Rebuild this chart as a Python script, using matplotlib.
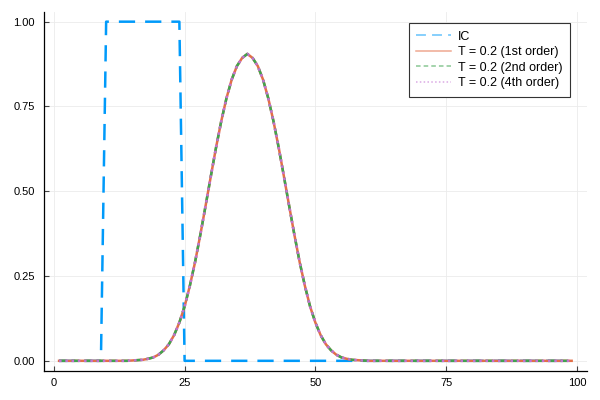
import matplotlib
matplotlib.use("Agg")
import matplotlib.pyplot as plt
from matplotlib.ticker import FuncFormatter

x = list(range(1, 100))

# IC values: 1 for x = 10..24, else 0
ic = [0]*9 + [1]*15 + [0]*75

sol1 = ([0.0]*13 +
        [0.000, 0.001, 0.002, 0.003, 0.006, 0.010, 0.018, 0.031, 0.049, 0.076,
         0.113, 0.160, 0.221, 0.291, 0.371, 0.456, 0.543, 0.628, 0.706, 0.774,
         0.829, 0.869, 0.893, 0.905, 0.893, 0.869, 0.829, 0.774, 0.706, 0.628,
         0.543, 0.456, 0.371, 0.291, 0.221, 0.160, 0.113, 0.076, 0.049, 0.031,
         0.018, 0.010, 0.006, 0.003, 0.002, 0.001, 0.000] +
        [0.0]*39)
sol2 = ([0.0]*13 +
        [0.000, 0.001, 0.002, 0.003, 0.006, 0.010, 0.018, 0.031, 0.049, 0.076,
         0.113, 0.160, 0.221, 0.291, 0.371, 0.456, 0.543, 0.628, 0.706, 0.774,
         0.829, 0.869, 0.893, 0.905, 0.893, 0.869, 0.829, 0.774, 0.706, 0.628,
         0.543, 0.456, 0.371, 0.291, 0.221, 0.160, 0.113, 0.076, 0.049, 0.031,
         0.018, 0.010, 0.006, 0.003, 0.002, 0.001, 0.000] +
        [0.0]*39)
sol4 = ([0.0]*13 +
        [0.000, 0.001, 0.002, 0.003, 0.006, 0.010, 0.018, 0.031, 0.049, 0.076,
         0.113, 0.160, 0.221, 0.291, 0.371, 0.456, 0.543, 0.628, 0.706, 0.774,
         0.829, 0.869, 0.893, 0.905, 0.893, 0.869, 0.829, 0.774, 0.706, 0.628,
         0.543, 0.456, 0.371, 0.291, 0.221, 0.160, 0.113, 0.076, 0.049, 0.031,
         0.018, 0.010, 0.006, 0.003, 0.002, 0.001, 0.000] +
        [0.0]*39)

labels = ["IC", "T = 0.2 (1st order)", "T = 0.2 (2nd order)", "T = 0.2 (4th order)"]
xticks = [0, 25, 50, 75, 100]
yticks = [0.0, 0.25, 0.5, 0.75, 1.0]

plt.rcParams['font.family'] = ['Liberation Sans', 'DejaVu Sans']

fig = plt.figure(figsize=(6, 4), dpi=100)
ax = fig.add_axes([43.7/600, 1-371/400, (587-43.7)/600, (371-11.5)/400])

l0, = ax.plot(x, ic, color='#009AFA', lw=1.8, label=labels[0])
l0.set_dashes((6.5, 4))
l1, = ax.plot(x, sol1, color='#E36F47', lw=1.8, label=labels[1])
l2, = ax.plot(x, sol2, color='#3EA44E', lw=1.8, label=labels[2])
l2.set_dashes((3, 2))
l3, = ax.plot(x, sol4, color='#C371D2', lw=1.8, label=labels[3], linestyle=(0, (1, 1.5)))

xmin, xmax = 1, 99
ax.set_xlim(xmin - 0.03*(xmax-xmin), xmax + 0.03*(xmax-xmin))
ax.set_ylim(-0.03, 1.03)
ax.set_xticks(xticks)
ax.set_yticks(yticks)
ax.yaxis.set_major_formatter(FuncFormatter(lambda v, p: f"{v:.2f}"))
ax.xaxis.set_major_formatter(FuncFormatter(lambda v, p: f"{v:g}"))

for s in ['top', 'right']:
    ax.spines[s].set_visible(False)
for s in ['left', 'bottom']:
    ax.spines[s].set_linewidth(0.9)
    ax.spines[s].set_color('black')
ax.tick_params(direction='in', length=3.5, width=0.8, color='#444444',
               labelsize=8, labelcolor='black')
ax.tick_params(axis='y', pad=6.5)
ax.tick_params(axis='x', pad=5)
ax.grid(True, color='#ebebeb', lw=0.6)
ax.set_axisbelow(True)

leg = ax.legend(loc='upper right', bbox_to_anchor=(570/600, 1-23/400),
                bbox_transform=fig.transFigure, borderaxespad=0,
                fontsize=9, frameon=True, fancybox=False, framealpha=1,
                edgecolor='#333333', handlelength=2.8, handletextpad=0.55,
                labelspacing=0.28, borderpad=0.6)
leg.get_frame().set_linewidth(0.8)
for ln in leg.get_lines():
    ln.set_linewidth(1.1)
    ln.set_alpha(0.6)

fig.savefig("out.png", dpi=100)
